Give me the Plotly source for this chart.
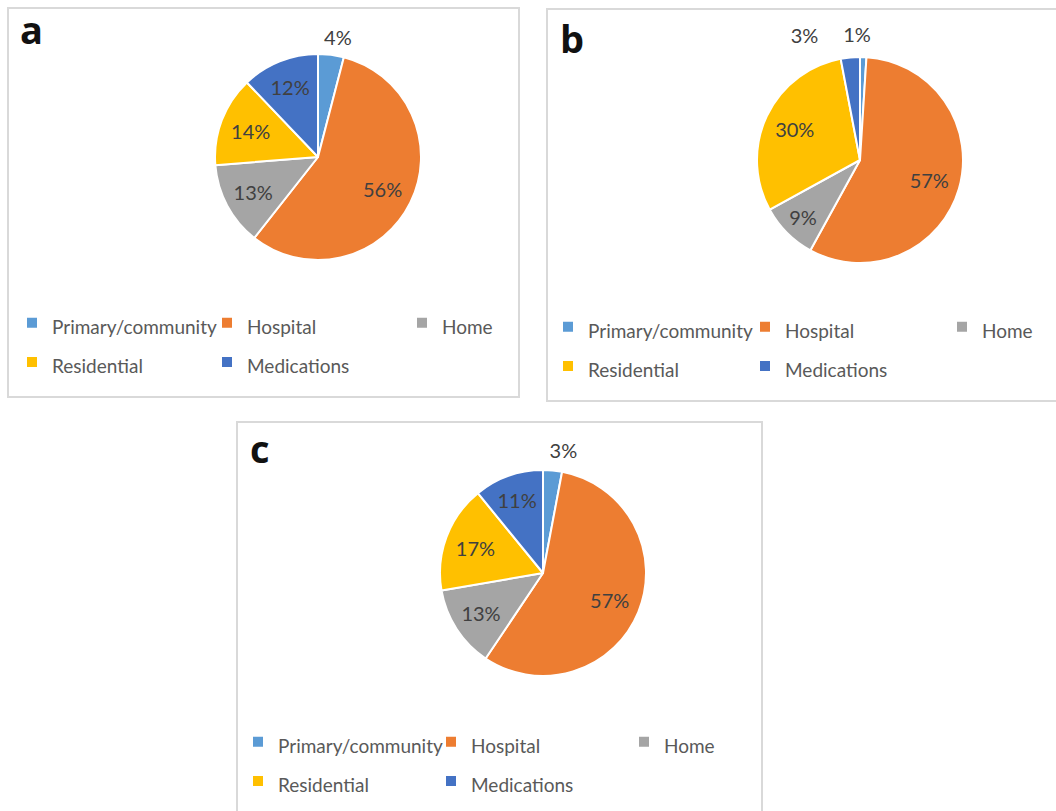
import plotly.graph_objects as go

# ---- data ----
categories = ["Primary/community", "Hospital", "Home", "Residential", "Medications"]
values_a = [4, 56, 13, 14, 12]
values_b = [1, 57, 9, 30, 3]
values_c = [3, 57, 13, 17, 11]
panel_labels = ["a", "b", "c"]
colors = ["#5B9BD5", "#ED7D31", "#A5A5A5", "#FFC000", "#4472C4"]

# ---- layout geometry (pixels) ----
W, H = 1056, 811
ML, MR, MT, MB = 200, 92, 0, 0
PW = W - ML - MR
PH = H - MT - MB


def px(x):
    return (x - ML) / PW


def py(y):
    return 1 - (y - MT) / PH


FONT = "Lato"
label_font_px = 19
legend_labels = [f'<span style="font-size:{label_font_px}px">{c}</span>' for c in categories]

panels = [
    dict(values=values_a, cx=318, cy=157, r=103, legend="legend", group="a",
         outside=[True, False, False, False, False], shift=(-13, -6), entry=150),
    dict(values=values_b, cx=860, cy=160, r=103, legend="legend2", group="b",
         outside=[True, False, False, False, True], shift=(-26, -11), entry=152),
    dict(values=values_c, cx=543, cy=573, r=103, legend="legend3", group="c",
         outside=[True, False, False, False, False], shift=(-9, -9), entry=148),
]


def domain(cx, cy, r):
    x0 = max(0.0, px(cx - r))
    x1 = min(1.0, px(cx + r))
    return dict(x=[x0, x1], y=[py(cy + r), py(cy - r)])


clear = ["rgba(0,0,0,0)"] * len(categories)
fig = go.Figure()
for p in panels:
    dom = domain(p["cx"], p["cy"], p["r"])
    # visible pie (slices + legend)
    fig.add_trace(go.Pie(
        labels=legend_labels, values=p["values"], sort=False,
        direction="clockwise", rotation=0,
        marker=dict(colors=colors, line=dict(color="white", width=2)),
        textinfo="none", domain=dom,
        legend=p["legend"], legendgroup=p["group"],
        hoverinfo="label+percent",
    ))
    # transparent ring carrying the inside data labels (best-fit placement)
    fig.add_trace(go.Pie(
        labels=categories, values=p["values"], sort=False,
        direction="clockwise", rotation=0, hole=0.4,
        marker=dict(colors=clear, line=dict(width=0)),
        texttemplate="%{value}%",
        textposition=["none" if o else "inside" for o in p["outside"]],
        insidetextorientation="horizontal",
        textfont=dict(family=FONT, size=20, color="#404040"),
        domain=dom, showlegend=False, hoverinfo="skip",
    ))
    # transparent pie carrying the outside data labels
    sx, sy = p["shift"]
    fig.add_trace(go.Pie(
        labels=categories, values=p["values"], sort=False,
        direction="clockwise", rotation=0,
        marker=dict(colors=clear, line=dict(width=0)),
        texttemplate="%{value}%",
        textposition=["outside" if o else "none" for o in p["outside"]],
        textfont=dict(family=FONT, size=20, color="#404040"),
        domain=domain(p["cx"] + sx, p["cy"] + sy, p["r"]),
        showlegend=False, hoverinfo="skip",
    ))

legend_common = dict(
    orientation="h", entrywidthmode="pixels",
    font=dict(family=FONT, size=28, color="#595959"),
    bgcolor="rgba(0,0,0,0)", yanchor="top", traceorder="normal",
)

ea = panels[0]["entry"]
fig.update_layout(
    width=W, height=H,
    margin=dict(l=ML, r=MR, t=MT, b=MB, autoexpand=False),
    paper_bgcolor="white", plot_bgcolor="white",
    legend=dict(**legend_common, entrywidth=ea, xanchor="right",
                x=px(12 + 3 * (ea + 45)), y=py(298)),
    legend2=dict(**legend_common, entrywidth=panels[1]["entry"], xanchor="left",
                 x=px(548), y=py(302)),
    legend3=dict(**legend_common, entrywidth=panels[2]["entry"], xanchor="left",
                 x=px(238), y=py(717)),
    showlegend=True,
)

# panel frames
frames = [(8, 8, 519, 397), (547, 9, 1062, 401), (237, 422, 762, 815)]
for x0, y0, x1, y1 in frames:
    fig.add_shape(type="rect", xref="paper", yref="paper",
                  x0=px(x0), x1=px(x1), y0=py(y1), y1=py(y0),
                  line=dict(color="#D9D9D9", width=2), fillcolor="rgba(0,0,0,0)",
                  layer="below")

# panel letters
letter_pos = [(18, 29), (558, 38), (248, 448)]
for lab, (x, y) in zip(panel_labels, letter_pos):
    fig.add_annotation(text=f"<b>{lab}</b>", xref="paper", yref="paper",
                       x=px(x), y=py(y), xanchor="left", yanchor="middle",
                       showarrow=False,
                       font=dict(family="Open Sans", size=38, color="#111111"))

fig.write_html("out.html")
